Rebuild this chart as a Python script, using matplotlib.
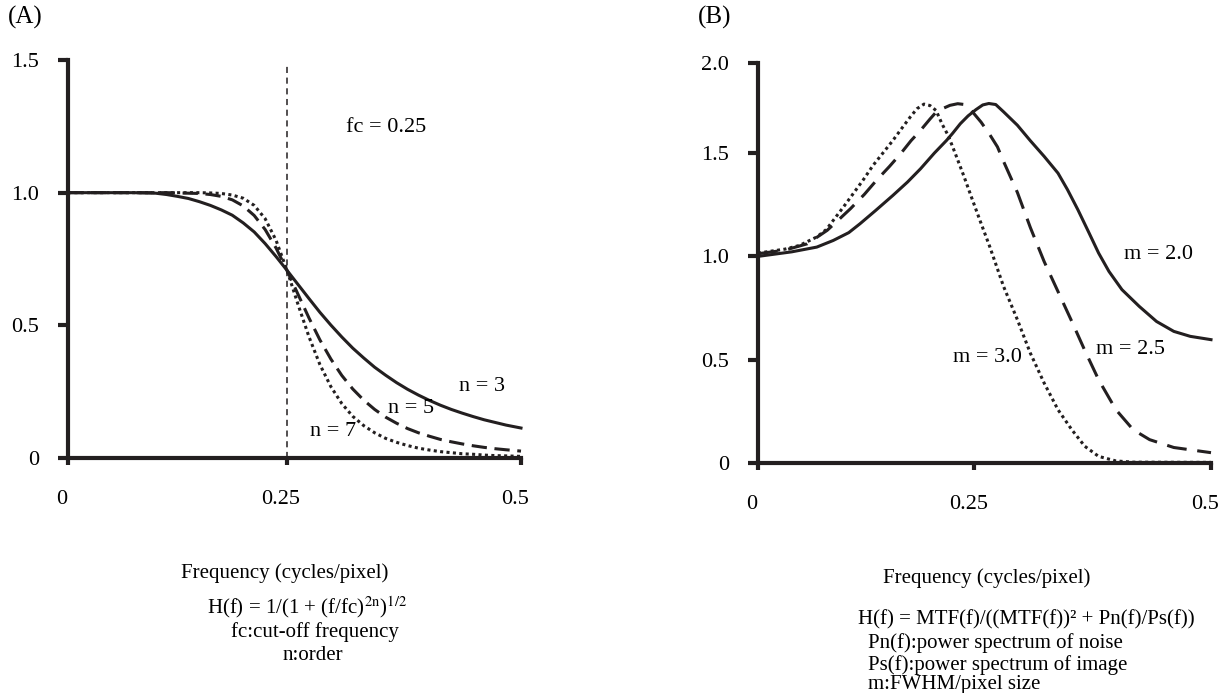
import matplotlib
matplotlib.use("Agg")
import matplotlib.pyplot as plt
import matplotlib.transforms as mtransforms

plt.rcParams['font.family'] = ['Liberation Serif', 'DejaVu Serif']
plt.rcParams['mathtext.fontset'] = 'stix'

# (A) Butterworth filter, fc = 0.25
freq_a = [0.0, 0.0125, 0.025, 0.0375, 0.05, 0.0625, 0.075, 0.0875, 0.1, 0.1125,
          0.125, 0.1375, 0.15, 0.1625, 0.175, 0.1875, 0.2, 0.2125, 0.225, 0.2375,
          0.25, 0.2625, 0.275, 0.2875, 0.3, 0.3125, 0.325, 0.3375, 0.35, 0.3625,
          0.375, 0.3875, 0.4, 0.4125, 0.425, 0.4375, 0.45, 0.4625, 0.475, 0.4875,
          0.5, 0.517]
h_n3 = [1.0, 1.0, 1.0, 1.0, 1.0, 1.0, 1.0, 0.999, 0.998, 0.993,
        0.986, 0.978, 0.966, 0.952, 0.935, 0.915, 0.886, 0.852, 0.808, 0.759,
        0.707, 0.654, 0.601, 0.549, 0.501, 0.456, 0.414, 0.377, 0.342, 0.312,
        0.284, 0.259, 0.237, 0.217, 0.199, 0.183, 0.169, 0.156, 0.144, 0.134,
        0.124, 0.113]
h_n5 = [1.0, 1.0, 1.0, 1.0, 1.0, 1.0, 1.0, 1.0, 1.0, 1.0,
        0.999, 0.998, 0.997, 0.993, 0.986, 0.973, 0.950, 0.914, 0.861, 0.791,
        0.707, 0.617, 0.528, 0.445, 0.373, 0.311, 0.260, 0.218, 0.183, 0.154,
        0.131, 0.111, 0.095, 0.082, 0.070, 0.061, 0.053, 0.046, 0.040, 0.035,
        0.031, 0.026]
h_n7 = [1.0, 1.0, 1.0, 1.0, 1.0, 1.0, 1.0, 1.0, 1.0, 1.0,
        1.0, 1.0, 1.0, 0.999, 0.997, 0.991, 0.979, 0.952, 0.902, 0.820,
        0.707, 0.579, 0.457, 0.352, 0.269, 0.205, 0.157, 0.122, 0.095, 0.074,
        0.059, 0.047, 0.037, 0.030, 0.024, 0.020, 0.016, 0.014, 0.011, 0.009,
        0.008, 0.006]

# (B) Wiener filter
freq_m20 = [0.0, 0.039, 0.068, 0.087, 0.105, 0.118, 0.136, 0.156, 0.173, 0.188, 0.204,
            0.218, 0.225, 0.234, 0.243, 0.252, 0.26, 0.267, 0.275, 0.284, 0.3,
            0.315, 0.331, 0.347, 0.358, 0.37, 0.383, 0.394, 0.406, 0.421, 0.441,
            0.461, 0.481, 0.5, 0.524]
h_m20 = [1.0, 1.022, 1.045, 1.077, 1.115, 1.158, 1.222, 1.295, 1.36, 1.424, 1.5,
         1.561, 1.595, 1.642, 1.68, 1.71, 1.733, 1.74, 1.735, 1.7, 1.635,
         1.56, 1.484, 1.403, 1.323, 1.226, 1.113, 1.016, 0.927, 0.839, 0.758,
         0.685, 0.637, 0.613, 0.597]
freq_m25 = [0.0, 0.031, 0.057, 0.08, 0.094, 0.107, 0.123, 0.137, 0.152, 0.165, 0.177,
            0.188, 0.199, 0.206, 0.215, 0.222, 0.231, 0.239, 0.248, 0.258, 0.268,
            0.277, 0.284, 0.3, 0.315, 0.331, 0.347, 0.363, 0.378, 0.394, 0.414,
            0.434, 0.453, 0.481, 0.524]
h_m25 = [1.013, 1.03, 1.061, 1.126, 1.18, 1.231, 1.3, 1.368, 1.435, 1.497, 1.56,
         1.61, 1.665, 1.698, 1.718, 1.731, 1.739, 1.735, 1.7, 1.65, 1.59,
         1.53, 1.46, 1.31, 1.14, 0.975, 0.83, 0.685, 0.545, 0.403, 0.258,
         0.161, 0.113, 0.075, 0.05]
freq_m30 = [0.0, 0.031, 0.048, 0.068, 0.079, 0.087, 0.099, 0.11, 0.122, 0.133, 0.145,
            0.156, 0.166, 0.176, 0.184, 0.192, 0.199, 0.206, 0.213, 0.22, 0.228,
            0.238, 0.248, 0.258, 0.268, 0.284, 0.3, 0.315, 0.331, 0.347, 0.363,
            0.378, 0.394, 0.414, 0.434, 0.524]
h_m30 = [1.016, 1.035, 1.053, 1.094, 1.13, 1.174, 1.24, 1.303, 1.372, 1.44, 1.503,
         1.561, 1.618, 1.674, 1.715, 1.737, 1.73, 1.706, 1.64, 1.585, 1.5,
         1.39, 1.274, 1.16, 1.048, 0.855, 0.694, 0.532, 0.387, 0.258, 0.161,
         0.081, 0.032, 0.01, 0.004, 0.003]

W, H = 1224, 693
fig = plt.figure(figsize=(W / 100, H / 100), dpi=100)
ink = '#231f20'


def px(x, y):
    return x / W, 1 - y / H


def style_axes(ax, xend, yticks, ylabels):
    for side in ['top', 'right']:
        ax.spines[side].set_visible(False)
    for side in ['left', 'bottom']:
        ax.spines[side].set_linewidth(3)
        ax.spines[side].set_color(ink)
        ax.spines[side].set_capstyle('projecting')
        ax.spines[side].set_zorder(5)
    ax.set_xlim(0, xend)
    ax.set_xticks([0, 0.25, xend])
    ax.set_xticklabels(['0', '0.25', '0.5'])
    ax.set_yticks(yticks)
    ax.set_yticklabels(ylabels)
    ax.tick_params(axis='x', direction='out', length=5, width=3, pad=18,
                   labelsize=16, color=ink)
    ax.tick_params(axis='y', direction='out', length=7, width=3, pad=14,
                   labelsize=16, color=ink)
    shift = mtransforms.ScaledTranslation(-6 / 100, 0, fig.dpi_scale_trans)
    for lab in ax.get_xticklabels():
        lab.set_transform(lab.get_transform() + shift)


line_kw = dict(color=ink, lw=2.2, clip_on=False)

# ---- panel A
ax1 = fig.add_axes([68 / W, 1 - 458 / H, (521 - 68) / W, (458 - 60) / H])
ax1.set_ylim(0, 1.5)
style_axes(ax1, 0.517, [0, 0.5, 1.0, 1.5], ['0', '0.5', '1.0', '1.5'])
ax1.plot(freq_a, h_n3, ls='-', **line_kw)
ax1.plot(freq_a, h_n5, ls=(0, (5, 2.5)), **line_kw)
ax1.plot(freq_a, h_n7, ls=(0, (1, 1.1)), **line_kw)
ax1.plot([0.25, 0.25], [0, 1.48], color=ink, lw=1.1, ls=(0, (4, 3)))
ax1.text(0.317, 1.244, 'fc = 0.25', fontsize=16, va='center')
ax1.text(0.446, 0.268, 'n = 3', fontsize=16, va='center')
ax1.text(0.365, 0.188, 'n = 5', fontsize=16, va='center')
ax1.text(0.276, 0.098, 'n = 7', fontsize=16, va='center')

# ---- panel B
ax2 = fig.add_axes([758 / W, 1 - 463 / H, (1211 - 758) / W, (463 - 63) / H])
ax2.set_ylim(0, 1.936)
style_axes(ax2, 0.524, [0, 0.5, 1.0, 1.5, 1.936], ['0', '0.5', '1.0', '1.5', '2.0'])
ax2.plot(freq_m20, h_m20, ls='-', **line_kw)
ax2.plot(freq_m25, h_m25, ls=(0, (6.5, 3.5)), **line_kw)
ax2.plot(freq_m30, h_m30, ls=(0, (1, 1.1)), **line_kw)
ax2.text(0.423, 1.007, 'm = 2.0', fontsize=16, va='center')
ax2.text(0.391, 0.547, 'm = 2.5', fontsize=16, va='center')
ax2.text(0.226, 0.513, 'm = 3.0', fontsize=16, va='center')

# ---- panel letters and captions
fig.text(*px(8, 17), '(A)', fontsize=18, va='center')
fig.text(*px(698, 17), '(B)', fontsize=18, va='center')

cap = 15
fig.text(*px(285, 573), 'Frequency (cycles/pixel)', fontsize=cap, ha='center', va='center')
fig.text(*px(307, 607), r'H(f) = 1/(1 + (f/fc)$^{\mathrm{2n}}$)$^{\mathrm{1/2}}$',
         fontsize=cap, ha='center', va='center')
fig.text(*px(315, 632), 'fc:cut-off frequency', fontsize=cap, ha='center', va='center')
fig.text(*px(313, 656), 'n:order', fontsize=cap, ha='center', va='center')

fig.text(*px(987, 578), 'Frequency (cycles/pixel)', fontsize=cap, ha='center', va='center')
fig.text(*px(858, 620), 'H(f) = MTF(f)/((MTF(f))² + Pn(f)/Ps(f))',
         fontsize=cap, ha='left', va='center')
fig.text(*px(868, 643), 'Pn(f):power spectrum of noise', fontsize=cap, ha='left', va='center')
fig.text(*px(868, 665), 'Ps(f):power spectrum of image', fontsize=cap, ha='left', va='center')
fig.text(*px(868, 684), 'm:FWHM/pixel size', fontsize=cap, ha='left', va='center')

fig.savefig('out.png', dpi=100)
